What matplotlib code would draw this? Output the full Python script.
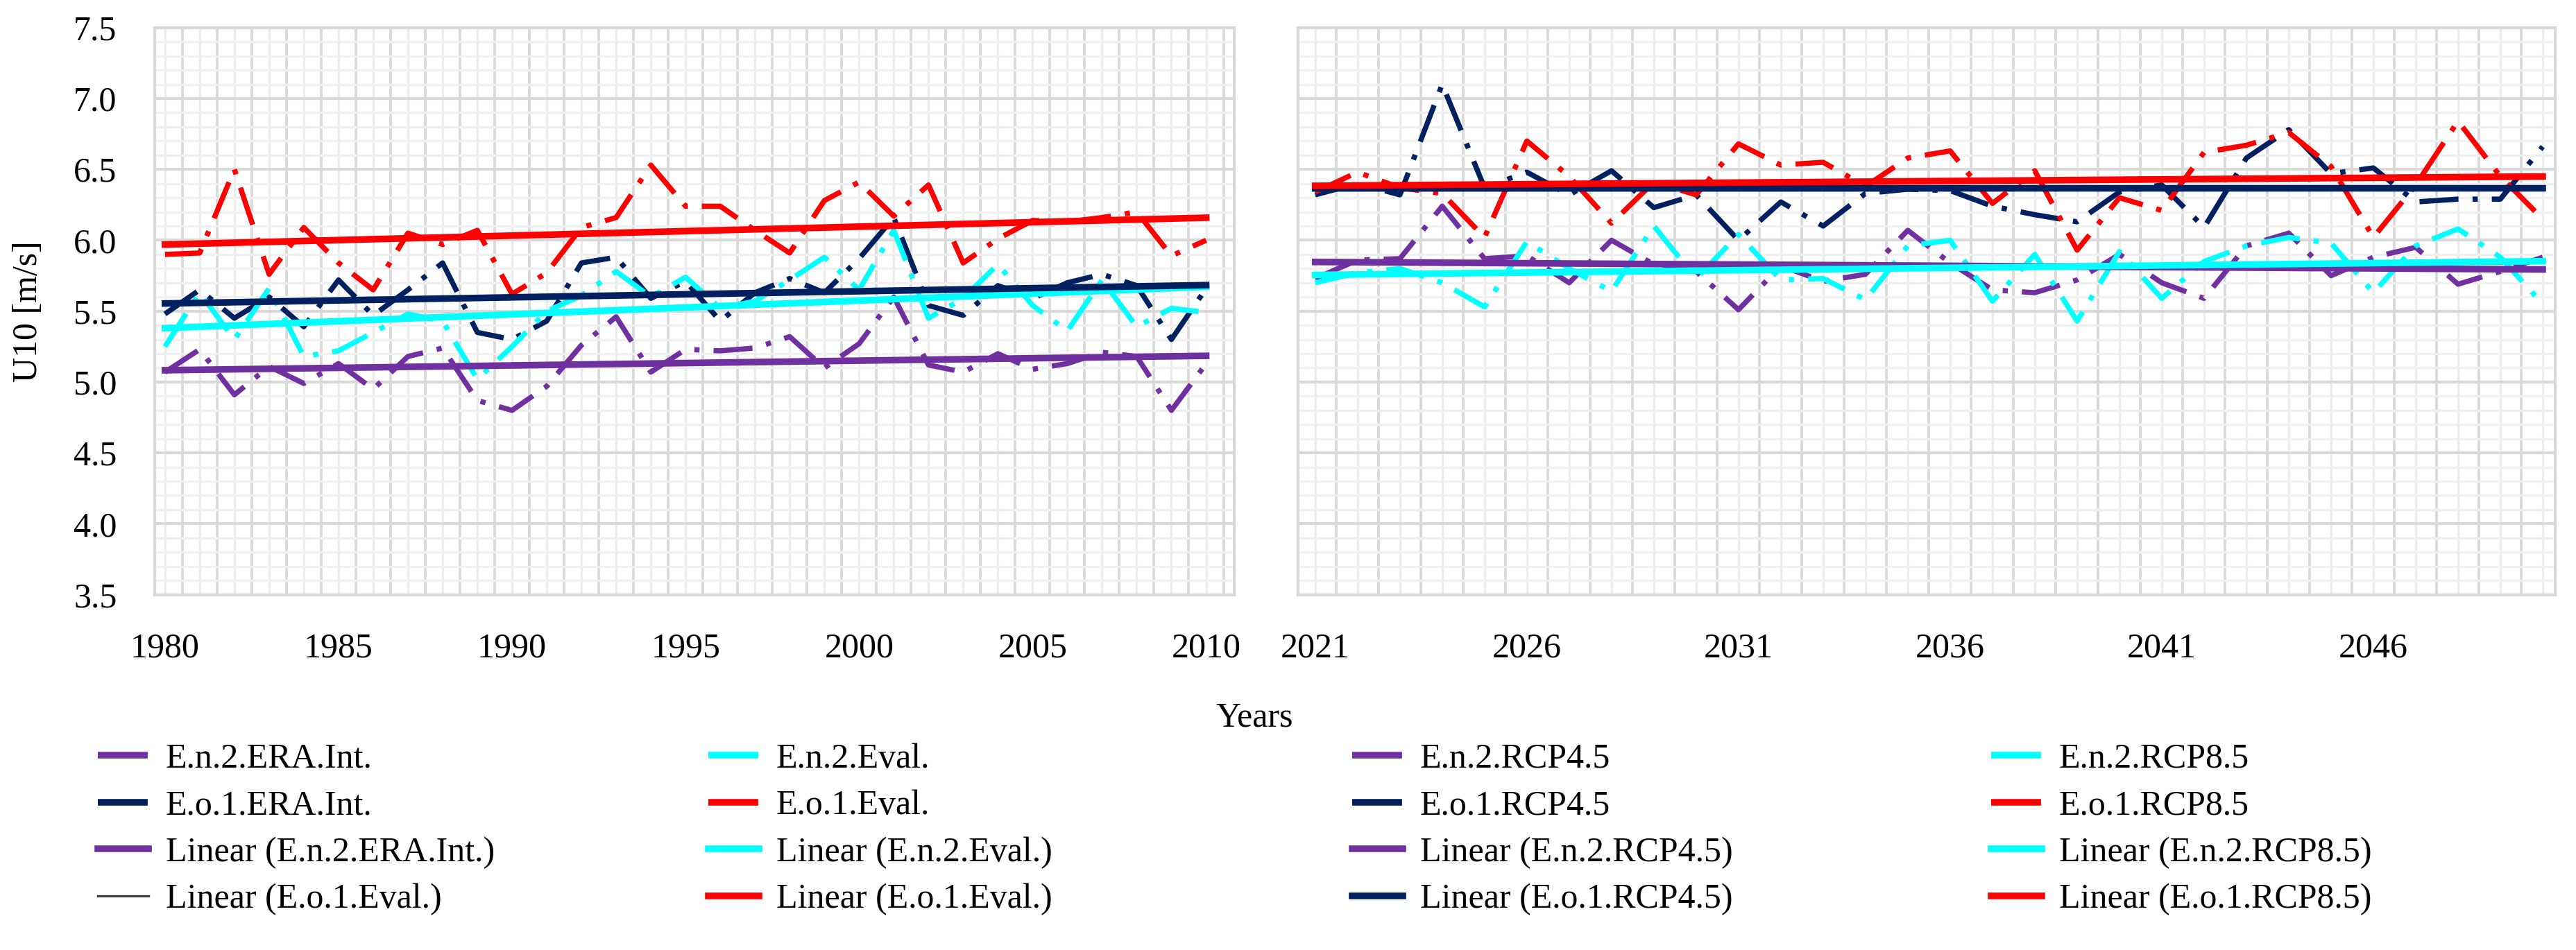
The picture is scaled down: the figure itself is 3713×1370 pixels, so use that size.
import numpy as np
import matplotlib
matplotlib.use("Agg")
import matplotlib.pyplot as plt
from matplotlib.lines import Line2D
from matplotlib.ticker import MultipleLocator

plt.rcParams['font.family'] = ['Liberation Serif', 'DejaVu Serif']

# --- DATA ---
years_hist = list(range(1980, 2011))
years_fut = list(range(2021, 2051))

en2_era = [5.07, 5.23, 4.91, 5.11, 4.99, 5.13, 4.95, 5.18, 5.24, 4.87, 4.80, 4.97, 5.26, 5.46, 5.07, 5.23,
           5.22, 5.24, 5.32, 5.10, 5.27, 5.60, 5.12, 5.07, 5.20, 5.09, 5.13, 5.21, 5.18, 4.80, 5.13]
eo1_era = [5.48, 5.65, 5.45, 5.60, 5.39, 5.72, 5.47, 5.65, 5.84, 5.35, 5.30, 5.43, 5.84, 5.88, 5.59, 5.71,
           5.43, 5.63, 5.73, 5.63, 5.87, 6.16, 5.54, 5.47, 5.68, 5.59, 5.70, 5.76, 5.68, 5.30, 5.66]
en2_eval = [5.25, 5.63, 5.30, 5.66, 5.18, 5.22, 5.35, 5.48, 5.43, 5.02, 5.25, 5.50, 5.61, 5.78, 5.60, 5.74,
            5.52, 5.57, 5.72, 5.88, 5.65, 6.07, 5.45, 5.59, 5.83, 5.54, 5.36, 5.72, 5.39, 5.52, 5.49]
eo1_eval = [5.90, 5.91, 6.50, 5.76, 6.09, 5.84, 5.65, 6.05, 5.97, 6.07, 5.62, 5.77, 6.09, 6.16, 6.53, 6.24,
            6.24, 6.07, 5.91, 6.28, 6.41, 6.17, 6.39, 5.84, 6.01, 6.14, 6.13, 6.16, 6.20, 5.89, 6.00]

en2_rcp45 = [5.73, 5.86, 5.87, 6.24, 5.87, 5.89, 5.70, 6.00, 5.83, 5.78, 5.51, 5.82, 5.71, 5.76, 6.07,
             5.84, 5.65, 5.63, 5.72, 5.90, 5.70, 5.59, 5.96, 6.05, 5.75, 5.88, 5.95, 5.69, 5.78, 5.88]
eo1_rcp45 = [6.32, 6.40, 6.32, 7.10, 6.37, 6.48, 6.32, 6.49, 6.23, 6.32, 6.00, 6.27, 6.10, 6.33, 6.36,
             6.35, 6.24, 6.18, 6.13, 6.34, 6.39, 6.09, 6.58, 6.78, 6.47, 6.51, 6.27, 6.29, 6.29, 6.66]
en2_rcp85 = [5.70, 5.77, 5.80, 5.70, 5.53, 5.99, 5.80, 5.64, 6.10, 5.73, 6.04, 5.72, 5.73, 5.58, 5.96,
             6.00, 5.57, 5.90, 5.43, 5.92, 5.59, 5.85, 5.96, 6.02, 5.98, 5.63, 5.96, 6.08, 5.88, 5.55]
eo1_rcp85 = [6.34, 6.48, 6.37, 6.33, 6.02, 6.70, 6.45, 6.12, 6.41, 6.32, 6.68, 6.53, 6.55, 6.38, 6.58,
             6.63, 6.26, 6.49, 5.93, 6.30, 6.21, 6.62, 6.67, 6.76, 6.52, 6.02, 6.39, 6.84, 6.45, 6.15]

PURPLE, CYAN, NAVY, RED = '#7030A0', '#00FFFF', '#002060', '#FF0000'
DASHDOT = (0, (7.5, 2.7, 1, 2.7))
LW, LW_TREND = 1.8, 2.3

fig = plt.figure(figsize=(3713 / 300, 1370 / 300), dpi=300)
ax1 = fig.add_axes([0.0600, 0.374, 0.4190, 0.597])
ax2 = fig.add_axes([0.5040, 0.374, 0.4880, 0.597])


def style_axes(ax, xlim, xticks):
    ax.set_xlim(*xlim)
    ax.set_ylim(3.5, 7.5)
    ax.set_yticks(np.arange(3.5, 7.51, 0.5))
    ax.yaxis.set_minor_locator(MultipleLocator(0.1))
    ax.set_xticks(xticks)
    ax.set_xticklabels([str(t) for t in xticks])
    ax.yaxis.set_major_formatter(matplotlib.ticker.FormatStrFormatter('%.1f'))
    ax.tick_params(which='both', length=0, labelsize=12, pad=13)
    ax.grid(axis='y', which='minor', color='#F0F0F0', lw=0.8, zorder=0)
    ax.grid(axis='y', which='major', color='#D9D9D9', lw=1.0, zorder=0)
    for yr in np.arange(np.floor(xlim[0]), xlim[1] + 1):
        ax.axvline(yr, color='#ECECEC', lw=0.8, zorder=0)
        ax.axvline(yr + 0.5, color='#D9D9D9', lw=0.9, zorder=0)
    for s in ax.spines.values():
        s.set_color('#D9D9D9')
        s.set_linewidth(1.0)
    ax.set_axisbelow(True)


def series(ax, x, y, color):
    ax.plot(x, y, color=color, lw=LW, linestyle=DASHDOT, zorder=3)


def trend(ax, x, y, color):
    k, b = np.polyfit(x, y, 1)
    xs = np.array([x[0], x[-1]])
    ax.plot(xs, k * xs + b, color=color, lw=LW_TREND, zorder=4)


# --- left panel: historical ---
series(ax1, years_hist, en2_era, PURPLE)
series(ax1, years_hist, eo1_era, NAVY)
series(ax1, years_hist, en2_eval, CYAN)
series(ax1, years_hist, eo1_eval, RED)
trend(ax1, years_hist, en2_era, PURPLE)
trend(ax1, years_hist, en2_eval, CYAN)
trend(ax1, years_hist, eo1_era, NAVY)
trend(ax1, years_hist, eo1_eval, RED)
style_axes(ax1, (1979.7, 2010.8), [1980, 1985, 1990, 1995, 2000, 2005, 2010])

# --- right panel: scenarios ---
series(ax2, years_fut, en2_rcp45, PURPLE)
series(ax2, years_fut, eo1_rcp45, NAVY)
series(ax2, years_fut, en2_rcp85, CYAN)
series(ax2, years_fut, eo1_rcp85, RED)
trend(ax2, years_fut, en2_rcp45, PURPLE)
trend(ax2, years_fut, en2_rcp85, CYAN)
trend(ax2, years_fut, eo1_rcp45, NAVY)
trend(ax2, years_fut, eo1_rcp85, RED)
style_axes(ax2, (2020.6, 2050.3), [2021, 2026, 2031, 2036, 2041, 2046])
ax2.tick_params(labelleft=False)

fig.text(0.011, 0.6725, "U10 [m/s]", rotation=90, va='center', ha='center', fontsize=12)
fig.text(0.487, 0.244, "Years", ha='center', va='center', fontsize=12)

# --- legend: four columns ---
def h(color, dashed, lw=LW_TREND):
    return Line2D([], [], color=color, lw=lw, linestyle=DASHDOT if dashed else '-')

columns = [
    ([h(PURPLE, True), h(NAVY, True), h(PURPLE, False), h('#404040', False, 0.8)],
     ["E.n.2.ERA.Int.", "E.o.1.ERA.Int.", "Linear (E.n.2.ERA.Int.)", "Linear (E.o.1.Eval.)"]),
    ([h(CYAN, True), h(RED, True), h(CYAN, False), h(RED, False)],
     ["E.n.2.Eval.", "E.o.1.Eval.", "Linear (E.n.2.Eval.)", "Linear (E.o.1.Eval.)"]),
    ([h(PURPLE, True), h(NAVY, True), h(PURPLE, False), h(NAVY, False)],
     ["E.n.2.RCP4.5", "E.o.1.RCP4.5", "Linear (E.n.2.RCP4.5)", "Linear (E.o.1.RCP4.5)"]),
    ([h(CYAN, True), h(RED, True), h(CYAN, False), h(RED, False)],
     ["E.n.2.RCP8.5", "E.o.1.RCP8.5", "Linear (E.n.2.RCP8.5)", "Linear (E.o.1.RCP8.5)"]),
]
col_x = [0.038, 0.275, 0.525, 0.773]
for x, (handles, labels) in zip(col_x, columns):
    fig.legend(handles, labels, loc='upper left', bbox_to_anchor=(x, 0.218), frameon=False,
               fontsize=12, handlelength=1.45, handletextpad=0.5, labelspacing=0.42,
               borderaxespad=0, borderpad=0)

fig.savefig("out.png", dpi=300, facecolor='white')
